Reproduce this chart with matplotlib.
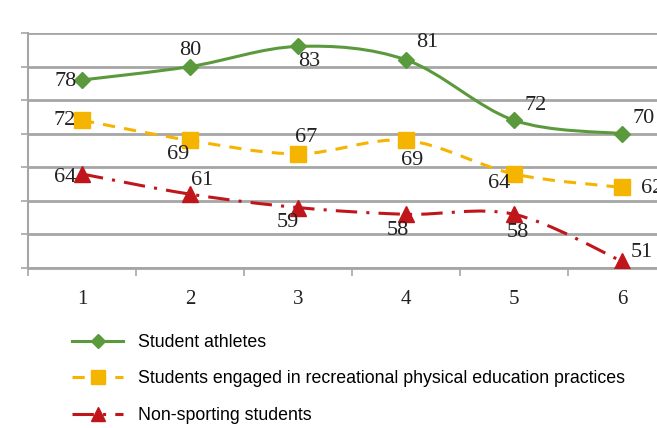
import numpy as np
import matplotlib.pyplot as plt
from matplotlib.path import Path
from matplotlib.patches import PathPatch
from matplotlib.lines import Line2D

groups = [1, 2, 3, 4, 5, 6]
athletes = [78, 80, 83, 81, 72, 70]
recreational = [72, 69, 67, 69, 64, 62]
non_sporting = [64, 61, 59, 58, 58, 51]

names = ["Student athletes",
         "Students engaged in recreational physical education practices",
         "Non-sporting students"]

# label offsets (pixels) per point
off_ath = [(-16, -1), (0, 16), (11, -15), (21, 17), (22, 15), (22, 15)]
off_rec = [(-17, 0), (-12, -14), (8, 16), (6, -20), (-15, -10), (30, -1)]
off_non = [(-17, -4), (12, 14), (-10, -15), (-8, -16), (4, -18), (20, 9)]

green = "#5b9a3c"
gold = "#f5b400"
red = "#c0161b"
grid_c = "#a6a6a6"


def smooth_path(x, y):
    # Excel-like smoothed line: cubic bezier segments through the points
    pts = np.column_stack([x, y]).astype(float)
    n = len(pts)
    verts = [pts[0]]
    codes = [Path.MOVETO]
    for i in range(n - 1):
        p0 = pts[i - 1] if i > 0 else pts[i]
        p1 = pts[i]
        p2 = pts[i + 1]
        p3 = pts[i + 2] if i + 2 < n else pts[i + 1]
        verts += [p1 + (p2 - p0) / 6, p2 - (p3 - p1) / 6, p2]
        codes += [Path.CURVE4] * 3
    return Path(verts, codes)


fig = plt.figure(figsize=(6.57, 4.28), dpi=100)
ax = fig.add_axes([28 / 657, 1 - 268 / 428, 648 / 657, 235 / 428])

ax.set_xlim(0.5, 6.5)
ax.set_ylim(50, 85)
ax.set_yticks(np.arange(50, 86, 5))
ax.set_yticklabels([])
ax.yaxis.grid(True, color=grid_c, lw=2)
ax.set_axisbelow(True)
for s in ["top", "right"]:
    ax.spines[s].set_visible(False)
ax.spines["left"].set_color(grid_c)
ax.spines["left"].set_linewidth(1.5)
ax.spines["bottom"].set_color(grid_c)
ax.spines["bottom"].set_linewidth(2)
ax.tick_params(axis="y", length=5, color=grid_c, width=1.2)

ax.set_xticks(groups)
ax.set_xticklabels([str(g) for g in groups], fontfamily="Liberation Serif", fontsize=15)
ax.tick_params(axis="x", length=0, pad=16, labelcolor="#222222")
ax.set_xticks(np.arange(0.5, 6.6, 1), minor=True)
ax.tick_params(axis="x", which="minor", length=6, color=grid_c, width=1.2)

series = [
    (athletes, green, "-", "D", 8, off_ath),
    (recreational, gold, (0, (4, 3)), "s", 11, off_rec),
    (non_sporting, red, (0, (7, 3, 1, 3)), "^", 11, off_non),
]

handles = []
for vals, col, ls, mk, ms, offs in series:
    patch = PathPatch(smooth_path(groups, vals), facecolor="none", edgecolor=col,
                      lw=2.2, linestyle=ls, zorder=3)
    ax.add_patch(patch)
    ax.plot(groups, vals, linestyle="none", marker=mk, ms=ms, color=col, zorder=4)
    for g, v, o in zip(groups, vals, offs):
        ax.annotate(str(v), (g, v), xytext=o, textcoords="offset pixels",
                    ha="center", va="center", fontsize=16,
                    fontfamily="Liberation Serif", color="#222222", zorder=5)
    handles.append(Line2D([], [], color=col, lw=2.2, linestyle=ls, marker=mk,
                          ms=ms * 0.9))

fig.legend(handles, names, loc="upper left", bbox_to_anchor=(56 / 657, 1 - 318 / 428),
           frameon=False, handlelength=2.9, labelspacing=1.1, handletextpad=0.85,
           prop={"family": "Liberation Sans", "size": 12.75})

fig.savefig("out.png", dpi=100)
